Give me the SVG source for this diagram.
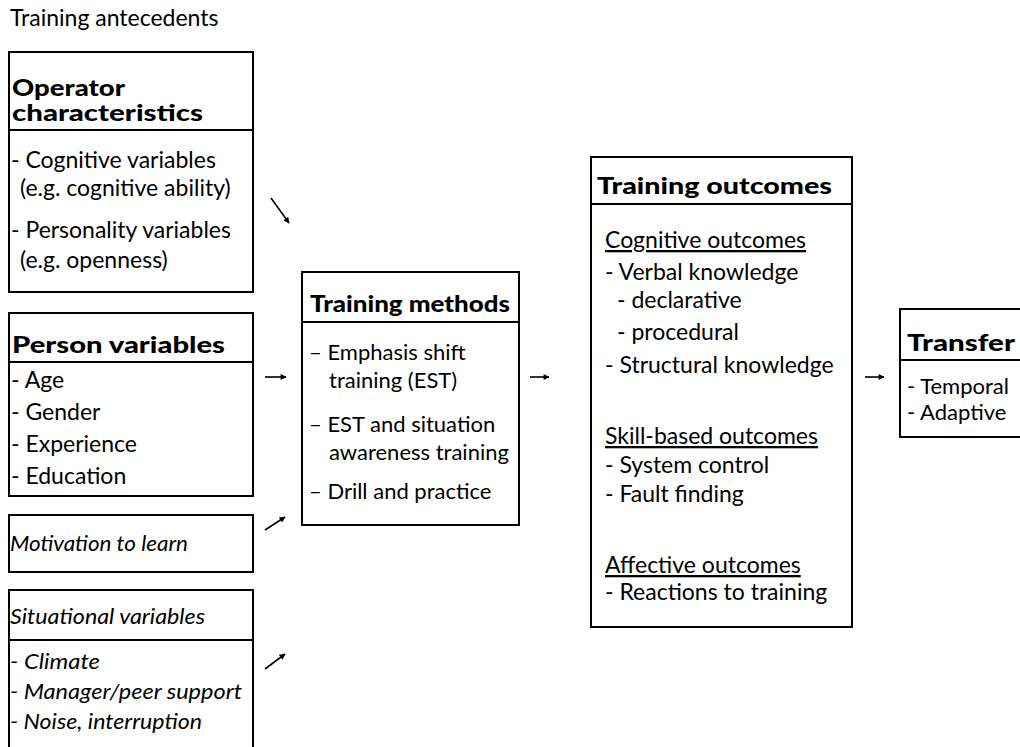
<svg xmlns="http://www.w3.org/2000/svg" width="1020" height="747" viewBox="0 0 1020 747">
<defs>
<style>
text{font-family:Lato,"Open Sans","Liberation Sans",sans-serif;font-size:23px;fill:#000}
.t{font-weight:900;font-size:22px}
.i{font-style:italic;font-size:21px}
.u{text-decoration:underline}
.s{font-size:22px}
.box{fill:#fff;stroke:#000;stroke-width:2}
.div{stroke:#000;stroke-width:2}
.arr{stroke:#000;stroke-width:1.6;fill:none;marker-end:url(#ah)}
</style>
<marker id="ah" viewBox="0 0 10 10" refX="9" refY="5" markerWidth="7" markerHeight="6" orient="auto" markerUnits="userSpaceOnUse">
<path d="M0,0 L10,5 L0,10 z" fill="#000"/>
</marker>
</defs>
<rect width="1020" height="747" fill="#fff"/>
<text x="10" y="26">Training antecedents</text>

<g id="operator">
<rect class="box" x="9" y="52" width="244" height="240"/>
<line class="div" x1="9" y1="130" x2="253" y2="130"/>
<text class="t" x="12" y="96" textLength="113" lengthAdjust="spacingAndGlyphs">Operator</text>
<text class="t" x="12" y="121" textLength="191" lengthAdjust="spacingAndGlyphs">characteristics</text>
<text x="11" y="168">- Cognitive variables</text>
<text x="20" y="196">(e.g. cognitive ability)</text>
<text x="11" y="238">- Personality variables</text>
<text x="20" y="268">(e.g. openness)</text>
</g>

<g id="person">
<rect class="box" x="9" y="313" width="244" height="183"/>
<line class="div" x1="9" y1="362" x2="253" y2="362"/>
<text class="t" x="12" y="353" textLength="213" lengthAdjust="spacingAndGlyphs">Person variables</text>
<text x="11" y="388">- Age</text>
<text x="11" y="420">- Gender</text>
<text x="11" y="452">- Experience</text>
<text x="11" y="484">- Education</text>
</g>

<g id="motivation">
<rect class="box" x="9" y="515" width="244" height="57"/>
<text class="i" x="10" y="551" textLength="178" lengthAdjust="spacingAndGlyphs">Motivation to learn</text>
</g>

<g id="situational">
<rect class="box" x="9" y="590" width="244" height="170"/>
<line class="div" x1="9" y1="640" x2="253" y2="640"/>
<text class="i" x="10" y="624" textLength="195" lengthAdjust="spacingAndGlyphs">Situational variables</text>
<text class="i" x="10" y="669" textLength="90" lengthAdjust="spacingAndGlyphs">- Climate</text>
<text class="i" x="10" y="699" textLength="232" lengthAdjust="spacingAndGlyphs">- Manager/peer support</text>
<text class="i" x="10" y="729" textLength="192" lengthAdjust="spacingAndGlyphs">- Noise, interruption</text>
</g>

<g id="methods">
<rect class="box" x="302" y="272" width="217" height="253"/>
<line class="div" x1="302" y1="322" x2="519" y2="322"/>
<text class="t" x="310" y="312" textLength="200" lengthAdjust="spacingAndGlyphs">Training methods</text>
<text class="s" x="309" y="360">– Emphasis shift</text>
<text class="s" x="329" y="388">training (EST)</text>
<text class="s" x="309" y="432">– EST and situation</text>
<text class="s" x="329" y="460">awareness training</text>
<text class="s" x="309" y="499">– Drill and practice</text>
</g>

<g id="outcomes">
<rect class="box" x="591" y="157" width="261" height="470"/>
<line class="div" x1="591" y1="204" x2="852" y2="204"/>
<text class="t" x="597" y="194" textLength="235" lengthAdjust="spacingAndGlyphs">Training outcomes</text>
<text class="u" x="605" y="248">Cognitive outcomes</text>
<text x="605" y="280">- Verbal knowledge</text>
<text x="617" y="308">- declarative</text>
<text x="617" y="340">- procedural</text>
<text x="605" y="373">- Structural knowledge</text>
<text class="u" x="605" y="444">Skill-based outcomes</text>
<text x="605" y="473">- System control</text>
<text x="605" y="502">- Fault finding</text>
<text class="u" x="605" y="573">Affective outcomes</text>
<text x="605" y="600">- Reactions to training</text>
</g>

<g id="transfer">
<rect class="box" x="900" y="309" width="140" height="128"/>
<line class="div" x1="900" y1="360" x2="1030" y2="360"/>
<text class="t" x="907" y="351" textLength="108" lengthAdjust="spacingAndGlyphs">Transfer</text>
<text class="s" x="907" y="394">- Temporal</text>
<text class="s" x="907" y="420">- Adaptive</text>
</g>

<g id="connectors">
<line class="arr" x1="271" y1="198" x2="289" y2="223"/>
<line class="arr" x1="265" y1="377" x2="286" y2="377"/>
<line class="arr" x1="265" y1="530" x2="285" y2="517"/>
<line class="arr" x1="265" y1="669" x2="285" y2="654"/>
<line class="arr" x1="530" y1="377" x2="549" y2="377"/>
<line class="arr" x1="865" y1="377" x2="884" y2="377"/>
</g>
</svg>
